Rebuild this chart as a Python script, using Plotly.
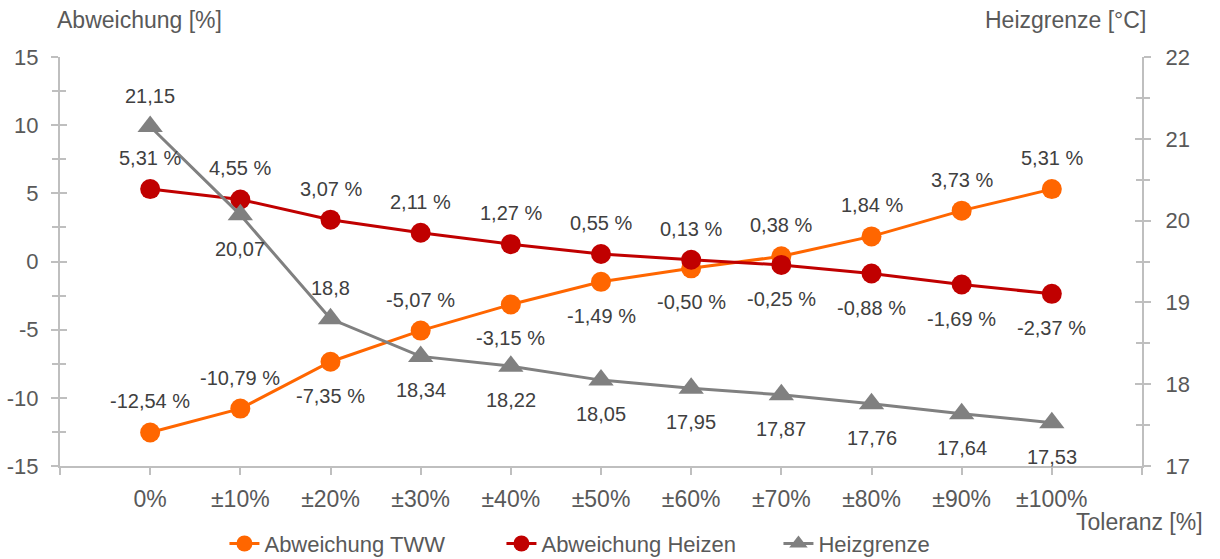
import plotly.graph_objects as go

categories = ["0%", "±10%", "±20%", "±30%", "±40%", "±50%", "±60%", "±70%", "±80%", "±90%", "±100%"]
abw_tww = [-12.54, -10.79, -7.35, -5.07, -3.15, -1.49, -0.50, 0.38, 1.84, 3.73, 5.31]
abw_heizen = [5.31, 4.55, 3.07, 2.11, 1.27, 0.55, 0.13, -0.25, -0.88, -1.69, -2.37]
heizgrenze = [21.15, 20.07, 18.8, 18.34, 18.22, 18.05, 17.95, 17.87, 17.76, 17.64, 17.53]
left_ticks = [-15, -10, -5, 0, 5, 10, 15]
right_ticks = [17, 18, 19, 20, 21, 22]

# label placement (1 = above, -1 = below)
pos_tww = [1, 1, -1, 1, -1, -1, -1, 1, 1, 1, 1]
pos_heizen = [1, 1, 1, 1, 1, 1, 1, -1, -1, -1, -1]
pos_hg = [1, -1, 1, -1, -1, -1, -1, -1, -1, -1, -1]

ORANGE = "#FF6600"
RED = "#C00000"
GRAY = "#808080"
AXIS = "#BFBFBF"
TXT = "#595959"
LBL = "#404040"
FONT = "Liberation Sans, Arial, sans-serif"

xi = list(range(len(categories)))

fig = go.Figure()
fig.add_trace(go.Scatter(x=xi, y=abw_tww, name="Abweichung TWW", mode="lines+markers",
                         line=dict(color=ORANGE, width=3), marker=dict(symbol="circle", size=20, color=ORANGE)))
fig.add_trace(go.Scatter(x=xi, y=abw_heizen, name="Abweichung Heizen", mode="lines+markers",
                         line=dict(color=RED, width=3), marker=dict(symbol="circle", size=20, color=RED)))
fig.add_trace(go.Scatter(x=xi, y=heizgrenze, name="Heizgrenze", mode="lines+markers", yaxis="y2",
                         line=dict(color=GRAY, width=3), marker=dict(symbol="triangle-up", size=22, color=GRAY)))
# dummy traces so overlay tick axes are drawn
fig.add_trace(go.Scatter(x=[], y=[], yaxis="y3", showlegend=False, hoverinfo="skip"))
fig.add_trace(go.Scatter(x=[], y=[], yaxis="y4", showlegend=False, hoverinfo="skip"))


def fmt_pct(v):
    return f"{v:.2f}".replace(".", ",") + " %"


def shift(p):
    return 31 if p > 0 else -34


annotations = []
for i, v in enumerate(abw_tww):
    annotations.append(dict(x=i, y=v, xref="x", yref="y", text=fmt_pct(v), showarrow=False,
                            yshift=shift(pos_tww[i]), font=dict(size=20, color=LBL, family=FONT)))
for i, v in enumerate(abw_heizen):
    annotations.append(dict(x=i, y=v, xref="x", yref="y", text=fmt_pct(v), showarrow=False,
                            yshift=shift(pos_heizen[i]), font=dict(size=20, color=LBL, family=FONT)))
for i, v in enumerate(heizgrenze):
    annotations.append(dict(x=i, y=v, xref="x", yref="y2", text=str(v).replace(".", ","), showarrow=False,
                            yshift=shift(pos_hg[i]), font=dict(size=20, color=LBL, family=FONT)))

annotations += [
    dict(text="Abweichung [%]", x=-0.005, xanchor="left", y=1.0, yanchor="bottom", yshift=22,
         xref="paper", yref="paper", showarrow=False, font=dict(size=23, color=TXT, family=FONT)),
    dict(text="Heizgrenze [°C]", x=1.006, xanchor="right", y=1.0, yanchor="bottom", yshift=22,
         xref="paper", yref="paper", showarrow=False, font=dict(size=23, color=TXT, family=FONT)),
    dict(text="Toleranz [%]", x=1.058, xanchor="right", y=0, yanchor="middle", yshift=-56,
         xref="paper", yref="paper", showarrow=False, font=dict(size=23, color=TXT, family=FONT)),
]

yaxis_common = dict(showgrid=False, zeroline=False, color=TXT,
                    tickfont=dict(size=22, color=TXT, family=FONT))

fig.update_layout(
    width=1220, height=559,
    margin=dict(l=60, r=78, t=57, b=93, autoexpand=False),
    paper_bgcolor="white", plot_bgcolor="white",
    font=dict(family=FONT, color=TXT),
    showlegend=True,
    legend=dict(orientation="h", x=0.536, xanchor="center", y=-0.19, yanchor="middle",
                font=dict(size=22, color=TXT, family=FONT), itemwidth=30, tracegroupgap=0,
                entrywidth=232, entrywidthmode="pixels"),
    xaxis=dict(range=[-1, 11], tickmode="array", tickvals=[-1] + xi + [11],
               ticktext=[""] + categories + [""], showgrid=False, zeroline=False,
               showline=True, linecolor=AXIS, linewidth=2, ticks="outside", ticklen=7,
               tickcolor=AXIS, tickwidth=2, ticklabelstandoff=4, automargin=False,
               tickfont=dict(size=23, color=TXT, family=FONT)),
    yaxis=dict(range=[-15, 15], tickmode="array", tickvals=left_ticks,
               ticktext=[str(t) for t in left_ticks],
               showline=True, linecolor=AXIS, linewidth=2,
               ticks="outside", ticklen=7, tickcolor=AXIS, tickwidth=2, ticklabelstandoff=8,
               automargin=False,
               minor=dict(tickmode="linear", tick0=-15, dtick=2.5, ticks="outside", ticklen=6,
                          tickcolor=AXIS, tickwidth=2),
               **yaxis_common),
    yaxis2=dict(range=[17, 22], tickmode="array", tickvals=right_ticks,
                ticktext=[str(t) for t in right_ticks],
                overlaying="y", side="right", anchor="x",
                showline=True, linecolor=AXIS, linewidth=2, automargin=False,
                ticks="outside", ticklen=7, tickcolor=AXIS, tickwidth=2, ticklabelstandoff=10,
                minor=dict(tickmode="linear", tick0=17, dtick=0.5, ticks="outside", ticklen=6,
                           tickcolor=AXIS, tickwidth=2),
                **yaxis_common),
    yaxis3=dict(range=[-15, 15], tick0=0, dtick=5, overlaying="y", side="left", anchor="x",
                showline=False, showticklabels=False, ticks="inside", ticklen=7,
                tickcolor=AXIS, tickwidth=2, automargin=False,
                minor=dict(dtick=2.5, ticks="inside", ticklen=6, tickcolor=AXIS, tickwidth=2),
                showgrid=False, zeroline=False),
    yaxis4=dict(range=[17, 22], tick0=17, dtick=1, overlaying="y", side="right", anchor="x",
                showline=False, showticklabels=False, ticks="inside", ticklen=7,
                tickcolor=AXIS, tickwidth=2, automargin=False,
                minor=dict(dtick=0.5, ticks="inside", ticklen=6, tickcolor=AXIS, tickwidth=2),
                showgrid=False, zeroline=False),
    annotations=annotations,
)

fig.write_html("out.html")
